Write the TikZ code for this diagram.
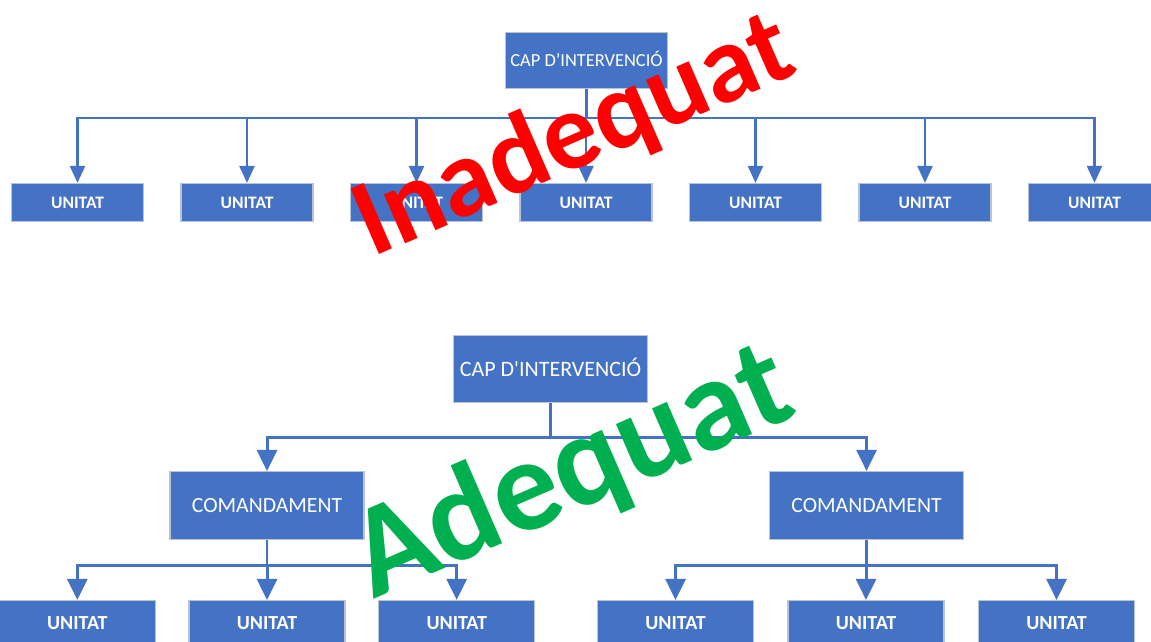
\documentclass[tikz,border=0pt]{standalone}
\usepackage{fontspec}
\setmainfont{Carlito}
\usetikzlibrary{matrix,arrows.meta}
\definecolor{boxblue}{HTML}{4472C4}
\definecolor{boxedge}{RGB}{185,195,215}
\definecolor{badred}{RGB}{255,0,0}
\definecolor{goodgreen}{HTML}{00B050}

\begin{document}
\begin{tikzpicture}[x=1pt,y=-1pt]
\tikzset{
box/.style={
  fill=boxblue,
  draw=boxedge,
  line width=1.2pt,
  text=white,
  inner sep=0pt,
  text depth=0pt
  },
toprow/.style={
  matrix of nodes,
  inner sep=0pt,
  column sep=36.3pt,
  nodes={box, minimum width=132pt, minimum height=38pt, text height=11.3pt,
         font=\fontsize{17.5}{20}\selectfont\bfseries}
  },
lowrow/.style={
  matrix of nodes,
  inner sep=0pt,
  nodes={box, minimum width=156pt, minimum height=45pt, text height=12.9pt,
         font=\fontsize{20}{22}\selectfont\bfseries}
  },
link/.style={draw=boxblue, line width=2.5pt},
arr/.style={link, -{Triangle[width=15pt,length=17pt]}},
arrb/.style={link, line width=3pt, -{Triangle[width=20pt,length=21pt]}},
stamp/.style={inner sep=0pt, anchor=base west, rotate=23.5}
}

\useasboundingbox (0,0) rectangle (1151,641);
\clip (0,0) rectangle (1151,641);

% inadequat
\node[box, minimum width=162pt, minimum height=56pt, text height=11.8pt,
      font=\fontsize{18.4}{20}\selectfont]
  (capA) at (586.5,60.5) {CAP D’INTERVENCIÓ};
\matrix [toprow] at (586,202.5)
(units)
{
    UNITAT & UNITAT & UNITAT & UNITAT & UNITAT & UNITAT & UNITAT \\
};
\coordinate (busA) at (586.5,118);
\draw[link] (capA) -- (busA);
\draw[arr] (busA) -| (units-1-1);
\draw[arr] (busA) -| (units-1-2);
\draw[arr] (busA) -| (units-1-3);
\draw[arr] (busA) -| (units-1-4);
\draw[arr] (busA) -| (units-1-5);
\draw[arr] (busA) -| (units-1-6);
\draw[arr] (busA) -| (units-1-7);

% adequat
\node[box, minimum width=194pt, minimum height=67pt, text height=14.1pt,
      font=\fontsize{22}{24}\selectfont]
  (capB) at (550.5,369) {CAP D\textquotesingle INTERVENCIÓ};
\node[box, minimum width=194pt, minimum height=68pt, text height=14pt,
      font=\fontsize{21.7}{24}\selectfont]
  (cmdl) at (267,505.5) {COMANDAMENT};
\node[box, minimum width=194pt, minimum height=68pt, text height=14pt,
      font=\fontsize{21.7}{24}\selectfont]
  (cmdr) at (866.5,505.5) {COMANDAMENT};
\matrix [lowrow, column sep=32.5pt] at (267,623)
(lunits)
{
    UNITAT & UNITAT & UNITAT \\
};
\matrix [lowrow, column sep=33.3pt] at (866,623)
(runits)
{
    UNITAT & UNITAT & UNITAT \\
};

\coordinate (busB) at (550.5,437);
\coordinate (busl) at (267,565);
\coordinate (busr) at (866.5,565);
\draw[link] (capB) -- (busB);
\draw[arrb] (busB) -| (cmdl);
\draw[arrb] (busB) -| (cmdr);
\draw[link] (cmdl) -- (busl);
\draw[arrb] (busl) -| (lunits-1-1);
\draw[arrb] (busl) -| (lunits-1-2);
\draw[arrb] (busl) -| (lunits-1-3);
\draw[link] (cmdr) -- (busr);
\draw[arrb] (busr) -| (runits-1-1);
\draw[arrb] (busr) -| (runits-1-2);
\draw[arrb] (busr) -| (runits-1-3);

% stamps
\node[stamp, text=badred, font=\fontsize{110}{110}\selectfont\bfseries]
  (badlabel) at (372,258) {Inadequat};
\node[stamp, text=goodgreen, font=\fontsize{131}{131}\selectfont\bfseries]
  (goodlabel) at (373,600) {Adequat};

\end{tikzpicture}
\end{document}
